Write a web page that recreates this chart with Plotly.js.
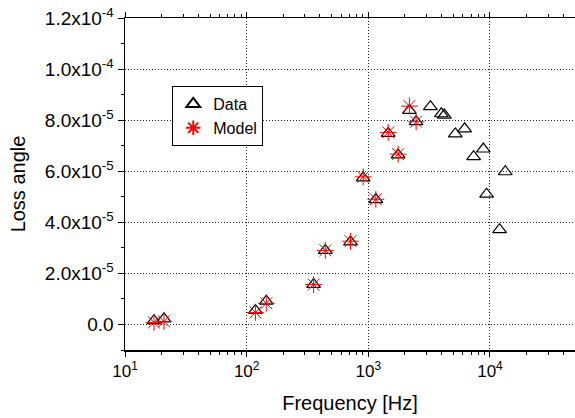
<!DOCTYPE html>
<html>
<head>
<meta charset="utf-8">
<script src="https://cdn.plot.ly/plotly-3.0.1.min.js"></script>
<style>html,body{margin:0;padding:0;background:#fff;}#chart{width:575px;height:418px;}</style>
</head>
<body>
<div id="chart"></div>
<script>
// Data series (frequency in Hz, loss angle)
var dataFreq = [17.3, 20.9, 118, 145, 355, 443, 714, 908, 1153, 1457, 1759, 2177, 2471, 3238, 3984, 4216, 5190, 6190, 7340, 8820, 9380, 11990, 13360];
var dataLoss = [0.15e-5, 0.22e-5, 0.55e-5, 0.91e-5, 1.57e-5, 2.90e-5, 3.23e-5, 5.74e-5, 4.89e-5, 7.48e-5, 6.64e-5, 8.38e-5, 7.94e-5, 8.53e-5, 8.25e-5, 8.20e-5, 7.46e-5, 7.66e-5, 6.57e-5, 6.87e-5, 5.10e-5, 3.71e-5, 5.98e-5];
// Model series
var modelFreq = [17.3, 20.9, 118, 145, 355, 443, 714, 908, 1153, 1457, 1759, 2177, 2471];
var modelLoss = [0.08e-5, 0.12e-5, 0.47e-5, 0.83e-5, 1.56e-5, 2.90e-5, 3.26e-5, 5.78e-5, 4.90e-5, 7.52e-5, 6.67e-5, 8.55e-5, 7.94e-5];
// Tick labels
var xTickVals = [10, 100, 1000, 10000];
var xTickText = ['10<sup>1</sup>', '10<sup>2</sup>', '10<sup>3</sup>', '10<sup>4</sup>'];
var yTickVals = [0, 2e-5, 4e-5, 6e-5, 8e-5, 1.0e-4, 1.2e-4];
var yTickText = ['0.0', '2.0x10<sup>-5</sup>', '4.0x10<sup>-5</sup>', '6.0x10<sup>-5</sup>', '8.0x10<sup>-5</sup>', '1.0x10<sup>-4</sup>', '1.2x10<sup>-4</sup>'];
var xMinorVals = [];
[10, 100, 1000, 10000].forEach(function(d){ for (var k = 2; k <= 9; k++) { if (d * k <= 50000) xMinorVals.push(d * k); } });

var font = 'Arial, "Liberation Sans", sans-serif';

var traces = [
  {
    x: dataFreq, y: dataLoss, name: 'Data', type: 'scatter', mode: 'markers',
    marker: {symbol: 'triangle-up-open', size: 12, color: '#000000', line: {width: 1.2, color: '#000000'}}
  },
  {
    x: modelFreq, y: modelLoss, name: 'Model', type: 'scatter', mode: 'markers',
    marker: {symbol: 'asterisk-open', size: 14, color: '#ff0000', line: {width: 1, color: '#ff0000'}}
  }
];

var layout = {
  width: 575, height: 418,
  margin: {l: 125, r: 0, t: 18, b: 68},
  paper_bgcolor: '#ffffff', plot_bgcolor: '#ffffff',
  font: {family: font, color: '#000000', size: 17},
  showlegend: true,
  legend: {
    x: 0.105, y: 0.795, xanchor: 'left', yanchor: 'top',
    bordercolor: '#000000', borderwidth: 1, bgcolor: '#ffffff',
    font: {family: font, size: 16, color: '#000000'},
    itemsizing: 'constant', tracegroupgap: 0
  },
  xaxis: {
    type: 'log', range: [1, Math.log10(50000)],
    tickmode: 'array', tickvals: xTickVals, ticktext: xTickText,
    ticks: 'outside', ticklen: 5, tickwidth: 1, tickcolor: '#000',
    showline: true, linecolor: '#000', linewidth: 1.5, mirror: 'ticks',
    showgrid: true, gridcolor: '#222222', gridwidth: 1, griddash: '1px,2px',
    zeroline: false,
    tickfont: {family: font, size: 17},
    minor: {tickmode: 'array', tickvals: xMinorVals, ticks: 'outside', ticklen: 3, tickwidth: 1, tickcolor: '#000', showgrid: false},
    title: {text: 'Frequency [Hz]', font: {family: font, size: 20}, standoff: 16}
  },
  yaxis: {
    range: [-1e-5, 1.2e-4],
    tickmode: 'array', tickvals: yTickVals, ticktext: yTickText,
    ticks: 'outside', ticklen: 6, tickwidth: 1, tickcolor: '#000',
    showline: true, linecolor: '#000', linewidth: 1.5, mirror: false,
    showgrid: true, gridcolor: '#222222', gridwidth: 1, griddash: '1px,2px',
    zeroline: false,
    tickfont: {family: font, size: 19},
    minor: {dtick: 1e-5, ticks: 'outside', ticklen: 3, tickwidth: 1, tickcolor: '#000', showgrid: false},
    title: {text: 'Loss angle', font: {family: font, size: 20}, standoff: 14}
  }
};

Plotly.newPlot('chart', traces, layout, {displayModeBar: false, staticPlot: true});
</script>
</body>
</html>
